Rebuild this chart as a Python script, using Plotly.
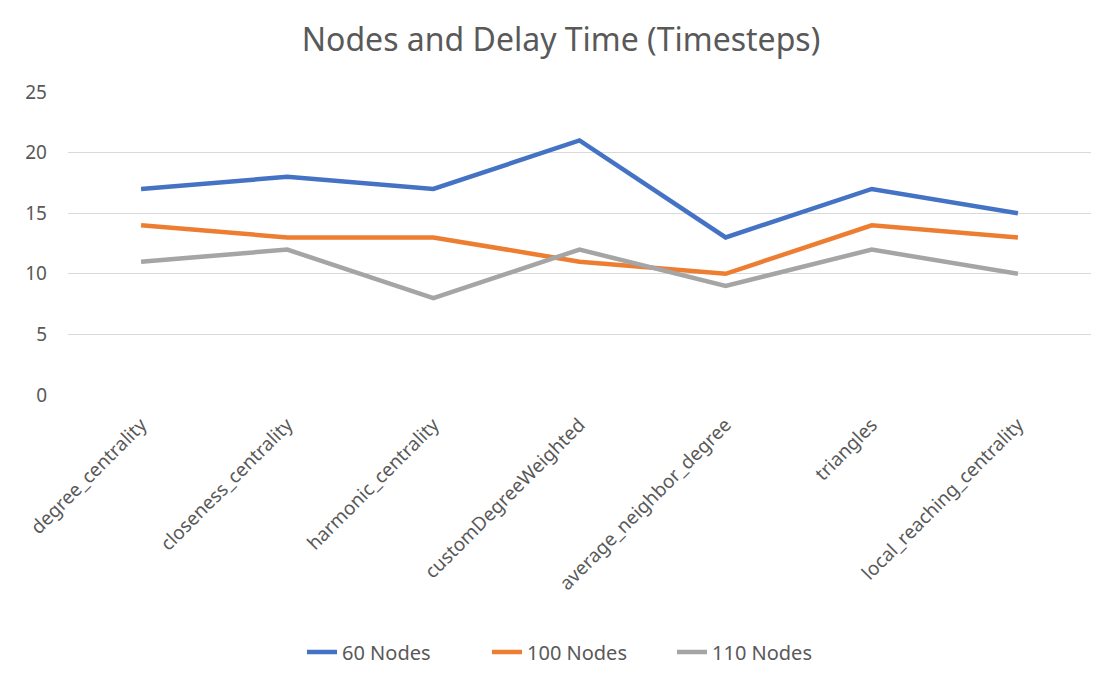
import plotly.graph_objects as go

categories = ["degree_centrality", "closeness_centrality", "harmonic_centrality",
              "customDegreeWeighted", "average_neighbor_degree", "triangles",
              "local_reaching_centrality"]
nodes_60 = [17, 18, 17, 21, 13, 17, 15]
nodes_100 = [14, 13, 13, 11, 10, 14, 13]
nodes_110 = [11, 12, 8, 12, 9, 12, 10]
series_names = ["60 Nodes", "100 Nodes", "110 Nodes"]
colors = ["#4472C4", "#ED7D31", "#A5A5A5"]

fig = go.Figure()
for name, vals, c in zip(series_names, [nodes_60, nodes_100, nodes_110], colors):
    fig.add_trace(go.Scatter(x=categories, y=vals, mode="lines", name=name,
                             line=dict(color=c, width=4.5)))

font_family = "Noto Sans, Open Sans, sans-serif"
fig.update_layout(
    width=1106, height=685,
    paper_bgcolor="white", plot_bgcolor="white",
    title=dict(text="Nodes and Delay Time (Timesteps)", x=0.5, xanchor="center",
               y=0.953, yanchor="middle",
               font=dict(family=font_family, size=32, color="#595959")),
    margin=dict(l=60, r=23, t=84, b=298),
    font=dict(family=font_family, size=19, color="#595959"),
    xaxis=dict(showgrid=False, showline=False, zeroline=False, tickangle=-45,
               ticks="", range=[-0.5, 6.5], ticklabelstandoff=14,
               tickfont=dict(size=19, color="#595959")),
    yaxis=dict(range=[0, 25], dtick=5, showgrid=True, gridcolor="#D9D9D9",
               gridwidth=1.3, zeroline=False, showline=False, ticks="",
               ticklabelstandoff=20,
               tickfont=dict(size=19, color="#595959")),
    legend=dict(orientation="h", x=0.5, xanchor="center", y=-0.848, yanchor="middle",
                font=dict(size=20, color="#595959"), entrywidth=140,
                tracegroupgap=0),
    showlegend=True,
)
fig.write_html("out.html")
